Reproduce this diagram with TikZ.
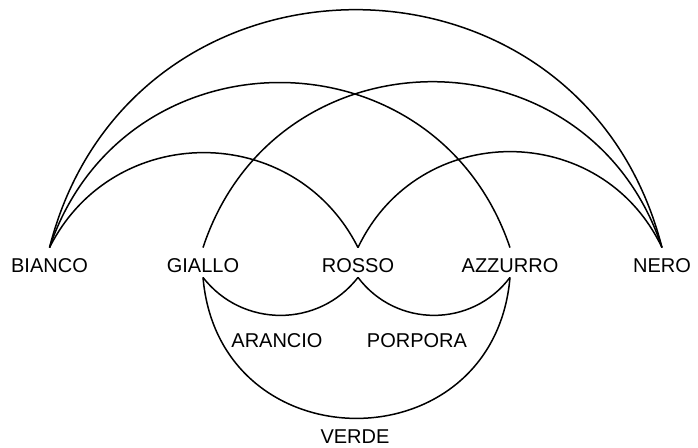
\documentclass[tikz,border=0pt]{standalone}
\usepackage{fontspec}
\setmainfont{Liberation Sans}
\begin{document}
\begin{tikzpicture}[x=0.5pt,y=0.5pt,every node/.style={font=\fontsize{10}{12}\selectfont},
  lb/.style={anchor=base,inner xsep=0pt,inner ysep=2.25pt,text height=10pt,text depth=0pt},
  ar/.style={line width=0.75pt}]
\useasboundingbox (0,0) rectangle (698,447);
\def\yt{174.5}\def\ym{100}\def\yb{3.5}
%------------- row: colour names
\node[lb] (bianco) at (49.5,\yt) {BIANCO};
\node[lb] (giallo) at (203,\yt) {GIALLO};
\node[lb] (rosso) at (358,\yt) {ROSSO};
\node[lb] (azzurro) at (510,\yt) {AZZURRO};
\node[lb] (nero) at (662,\yt) {NERO};
\node[lb] (arancio) at (277,\ym) {ARANCIO};
\node[lb] (porpora) at (417,\ym) {PORPORA};
\node[lb] (verde) at (355,\yb) {VERDE};
%------------- arcs above
\draw[ar] (bianco.north) .. controls +(75.7:327.4) and +(104.3:327.4) .. (nero.north);
\draw[ar] (bianco.north) .. controls +(71.3:232.4) and +(108.7:232.4) .. (azzurro.north);
\draw[ar] (giallo.north) .. controls +(71.7:233.0) and +(108.3:233.0) .. (nero.north);
\draw[ar] (bianco.north) .. controls +(63.3:141.8) and +(116.7:141.8) .. (rosso.north);
\draw[ar] (rosso.north) .. controls +(64.6:141.7) and +(115.4:141.7) .. (nero.north);
%------------- arcs below
\draw[ar] (giallo.south) .. controls +(-52.2:64.1) and +(-127.8:64.1) .. (rosso.south);
\draw[ar] (rosso.south) .. controls +(-53.1:63.3) and +(-126.9:63.3) .. (azzurro.south);
\draw[ar] (giallo.south) .. controls +(-85.1:188.7) and +(-94.9:188.7) .. (azzurro.south);
\end{tikzpicture}
\end{document}
